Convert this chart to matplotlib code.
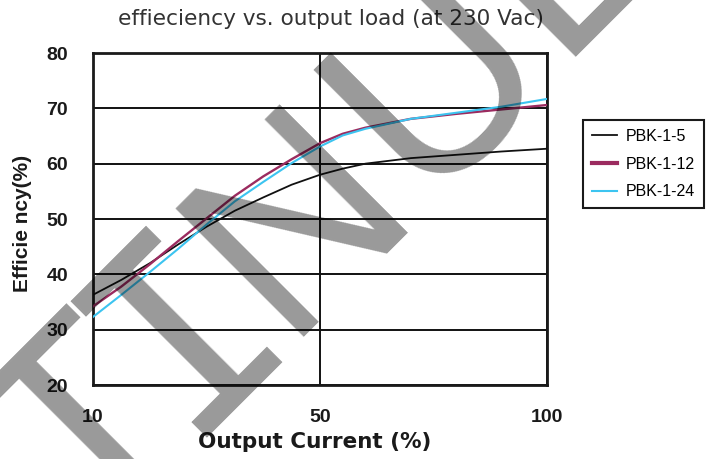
import numpy as np
import matplotlib
matplotlib.use("Agg")
import matplotlib.pyplot as plt

# output load (%) and efficiency (%)
load_pct = [10, 15, 20, 25, 30, 35, 40, 45, 50, 55, 60, 70, 80, 90, 100]
eff_pbk_1_5 = [36.3, 39.0, 42.0, 45.4, 48.6, 51.5, 53.9, 56.2, 58.0, 59.1, 60.0, 61.0, 61.6, 62.2, 62.7]
eff_pbk_1_12 = [34.2, 37.8, 41.8, 46.0, 50.1, 54.2, 57.7, 60.8, 63.7, 65.4, 66.5, 68.1, 69.0, 69.8, 70.6]
eff_pbk_1_24 = [32.3, 36.3, 40.4, 44.6, 49.0, 53.2, 56.7, 60.1, 63.1, 65.1, 66.3, 68.1, 69.2, 70.3, 71.7]

series_labels = ["PBK-1-5", "PBK-1-12", "PBK-1-24"]
series_colors = ["#111111", "#9B2B5F", "#3CC4F0"]
series_widths = [1.3, 1.7, 1.5]
x_ticks = [10, 50, 100]
y_ticks = [20, 30, 40, 50, 60, 70, 80]

W, H = 713, 459


def fwd(x):
    # 10..50 and 50..100 each take half of the axis
    x = np.asarray(x, dtype=float)
    return np.where(x <= 50, (x - 10) / 40.0, 1 + (x - 50) / 50.0)


def inv(y):
    y = np.asarray(y, dtype=float)
    return np.where(y <= 1, 10 + 40.0 * y, 50 + 50.0 * (y - 1))


fig = plt.figure(figsize=(W / 100, H / 100), dpi=100)
ax = fig.add_axes([93 / W, 1 - 385 / H, (547 - 93) / W, (385 - 53) / H])
ax.set_xscale("function", functions=(fwd, inv))

for vals, lab, col, lw in zip([eff_pbk_1_5, eff_pbk_1_12, eff_pbk_1_24],
                              series_labels, series_colors, series_widths):
    ax.plot(load_pct, vals, color=col, lw=lw, label=lab, zorder=3)

ax.set_xlim(10, 100)
ax.set_ylim(20, 80)
ax.set_xticks(x_ticks)
ax.set_xticklabels([str(t) for t in x_ticks])
ax.set_yticks(y_ticks)
ax.grid(True, color="#111111", lw=1.4, zorder=1)
for sp in ax.spines.values():
    sp.set_linewidth(2.0)
    sp.set_color("#1a1a1a")

ax.tick_params(length=0, colors="#1a1a1a")
ax.tick_params(axis="y", pad=18)
ax.tick_params(axis="x", pad=17)
for t in ax.get_xticklabels() + ax.get_yticklabels():
    t.set_fontfamily("Liberation Sans")
    t.set_fontweight("bold")
    t.set_fontsize(14)

ax.set_xlabel("Output Current (%)", fontfamily="DejaVu Sans", fontweight="bold",
              fontsize=15.5, color="#1a1a1a", va="center")
ax.xaxis.set_label_coords((315 - 93) / 454, (385 - 442) / 332)
ax.set_ylabel("Efficie ncy(%)", fontfamily="Liberation Sans", fontweight="bold",
              fontsize=15, color="#1a1a1a", va="center")
ax.yaxis.set_label_coords((23 - 93) / 454, (385 - 223) / 332)

fig.text(331 / W, 1 - 19 / H, "effieciency vs. output load (at 230 Vac)",
         fontfamily="DejaVu Sans", fontsize=15.6, color="#333333",
         ha="center", va="center")

leg = ax.legend(loc="upper left", bbox_to_anchor=(583 / W, 1 - 120 / H),
                bbox_transform=fig.transFigure, frameon=True, fancybox=False,
                edgecolor="#1a1a1a", framealpha=1, borderpad=0.55,
                handlelength=1.6, handletextpad=0.55, labelspacing=0.8,
                borderaxespad=0, prop=dict(family="Liberation Sans", size=11.5))
leg.get_frame().set_linewidth(1.5)
leg.get_lines()[1].set_linewidth(3)

# grey diagonal watermark, letter by letter (offsets along / across the slant, px)
wm_letters = ["T", "I", "N", "U", "E"]
wm_fonts = ["Liberation Sans", "DejaVu Sans Mono", "Liberation Sans", "Liberation Sans", "Liberation Sans"]
wm_s = [-240, -102, 57, 253, 440]
wm_n = [438, 438, 438, 438, 432]
for ch, fam, s, n in zip(wm_letters, wm_fonts, wm_s, wm_n):
    px = 0.7071 * (s + n)
    py = 0.7071 * (n - s)
    fig.text(px / W, 1 - py / H, ch, fontfamily=fam, fontsize=190,
             color="black", alpha=0.4, rotation=45, rotation_mode="anchor",
             ha="center", va="baseline", zorder=10)

fig.savefig("out.png", dpi=100)
